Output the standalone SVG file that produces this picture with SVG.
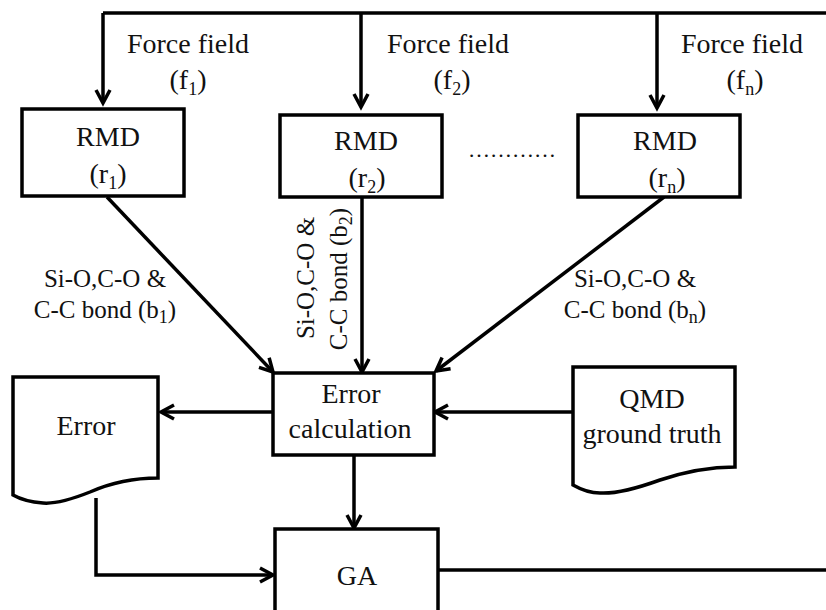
<svg xmlns="http://www.w3.org/2000/svg" width="826" height="610" viewBox="0 0 826 610">
<defs>
<marker id="arr" markerUnits="userSpaceOnUse" viewBox="-16 -10 20 20" markerWidth="20" markerHeight="20" refX="0" refY="0" orient="auto" overflow="visible">
<path d="M -13 -7 L 0 0 L -13 7" fill="none" stroke="#000" stroke-width="3.5" stroke-linejoin="miter"/>
</marker>
<style>
.box{fill:#fff;stroke:#000;stroke-width:3.5}
.ln{fill:none;stroke:#000;stroke-width:3.5}
.t{font-family:"Liberation Serif","Times New Roman",serif;font-size:28px;fill:#111;text-anchor:middle}
.l{font-family:"Liberation Serif","Times New Roman",serif;font-size:25px;fill:#111;text-anchor:middle}
.sub{font-size:18px}
</style>
</defs>
<rect width="826" height="610" fill="#fff"/>
<g id="connectors">
<path class="ln" d="M 103 13 H 826"/>
<path class="ln" d="M 103 13 V 103" marker-end="url(#arr)"/>
<path class="ln" d="M 361 13 V 107" marker-end="url(#arr)"/>
<path class="ln" d="M 657 13 V 108" marker-end="url(#arr)"/>
<path class="ln" d="M 107 197 L 273 372" marker-end="url(#arr)"/>
<path class="ln" d="M 362 197 V 372" marker-end="url(#arr)"/>
<path class="ln" d="M 664 197 L 436 371" marker-end="url(#arr)"/>
<path class="ln" d="M 273 412 H 161" marker-end="url(#arr)"/>
<path class="ln" d="M 573 412 H 435" marker-end="url(#arr)"/>
<path class="ln" d="M 354 455 V 528" marker-end="url(#arr)"/>
<path class="ln" d="M 96 498 V 575 H 273" marker-end="url(#arr)"/>
<path class="ln" d="M 438 570 H 826" stroke-width="3"/>
<text class="t" x="188" y="53">Force field</text>
<text class="t" x="188" y="89">(f<tspan class="sub" dy="6">1</tspan><tspan dy="-6">)</tspan></text>
<text class="t" x="448" y="53">Force field</text>
<text class="t" x="452" y="89">(f<tspan class="sub" dy="6">2</tspan><tspan dy="-6">)</tspan></text>
<text class="t" x="742" y="53">Force field</text>
<text class="t" x="745" y="89">(f<tspan class="sub" dy="6">n</tspan><tspan dy="-6">)</tspan></text>
<text class="l" x="105" y="287">Si-O,C-O &amp;</text>
<text class="l" x="105" y="318">C-C bond (b<tspan class="sub" dy="5">1</tspan><tspan dy="-5">)</tspan></text>
<text class="l" transform="translate(314 278) rotate(-90)">Si-O,C-O &amp;</text>
<text class="l" transform="translate(347 279) rotate(-90)">C-C bond (b<tspan class="sub" dy="5">2</tspan><tspan dy="-5">)</tspan></text>
<text class="l" x="635" y="287">Si-O,C-O &amp;</text>
<text class="l" x="635" y="318">C-C bond (b<tspan class="sub" dy="5">n</tspan><tspan dy="-5">)</tspan></text>
</g>
<g id="rmd1">
<rect class="box" x="22" y="109" width="162" height="87"/>
<text class="t" x="108" y="146">RMD</text>
<text class="t" x="108" y="183">(r<tspan class="sub" dy="6">1</tspan><tspan dy="-6">)</tspan></text>
</g>
<g id="rmd2">
<rect class="box" x="280" y="115" width="162" height="82"/>
<text class="t" x="366" y="150">RMD</text>
<text class="t" x="367" y="187">(r<tspan class="sub" dy="6">2</tspan><tspan dy="-6">)</tspan></text>
</g>
<g id="dots">
<text class="t" x="512" y="157" style="font-size:22px">…………</text>
</g>
<g id="rmdn">
<rect class="box" x="578" y="115" width="162" height="82"/>
<text class="t" x="665" y="150">RMD</text>
<text class="t" x="667" y="187">(r<tspan class="sub" dy="6">n</tspan><tspan dy="-6">)</tspan></text>
</g>
<g id="errcalc">
<rect class="box" x="273" y="373" width="161" height="82"/>
<text class="t" x="351" y="403">Error</text>
<text class="t" x="350" y="438">calculation</text>
</g>
<g id="errdoc">
<path class="box" d="M 13 377 H 158 V 478 C 140 478, 115 481, 90 492 C 70 500, 55 504, 43 503 C 30 502, 20 499, 13 495 Z"/>
<text class="t" x="86" y="435">Error</text>
</g>
<g id="qmd">
<path class="box" d="M 573 367 H 735 V 467 C 715 467, 690 470, 660 480 C 635 489, 615 494, 600 493 C 590 493, 580 489, 573 485 Z"/>
<text class="t" x="652" y="408">QMD</text>
<text class="t" x="652" y="443">ground truth</text>
</g>
<g id="ga">
<rect class="box" x="275" y="529" width="163" height="95"/>
<text class="t" x="357" y="585">GA</text>
</g>
</svg>
